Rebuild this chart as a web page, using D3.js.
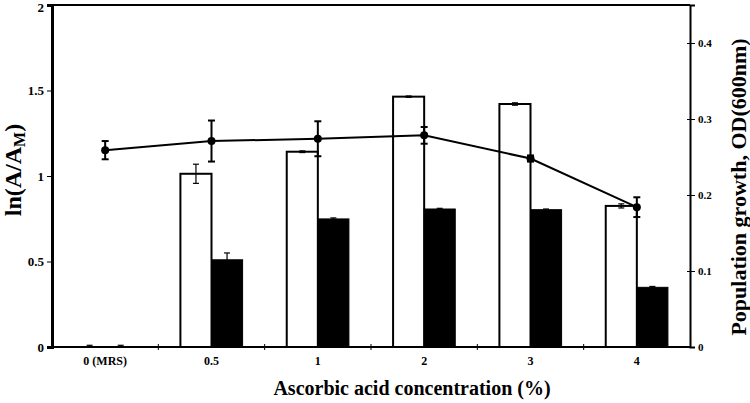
<!DOCTYPE html>
<html>
<head>
    <title>Ascorbic acid chart</title>
    <script src="https://d3js.org/d3.v7.min.js"></script>
</head>
<body>
    <style>
        * { margin: 0; padding: 0; }
        body { background: #fff; }
        text { font-family: 'Liberation Serif', 'Times New Roman', serif; font-weight: bold; fill: #000; }
    </style>
    <div id="chart"></div>

    <script>
        // datos
        const categories = ["0 (MRS)", "0.5", "1", "2", "3", "4"];
        const whiteVals = [0, 1.013, 1.142, 1.464, 1.421, 0.825];
        const whiteErr = [0.01, 0.056, 0.005, 0.004, 0.007, 0.012];
        const blackVals = [0, 0.51, 0.749, 0.807, 0.803, 0.349];
        const blackErr = [0.01, 0.04, 0.006, 0.004, 0.004, 0.005];
        const odVals = [0.259, 0.271, 0.274, 0.2785, 0.248, 0.184];
        const odErr = [0.012, 0.027, 0.023, 0.011, 0.004, 0.013];
        const leftTicks = [0, 0.5, 1, 1.5, 2];
        const rightTicks = [0, 0.1, 0.2, 0.3, 0.4];

        const width = 750, height = 403;
        const margin = { top: 5, right: 60, bottom: 56, left: 52 };
        const plotW = width - margin.left - margin.right;
        const plotH = height - margin.top - margin.bottom;

        const svg = d3.select("#chart")
            .append("svg")
            .attr("width", width)
            .attr("height", height);

        const g = svg.append("g")
            .attr("transform", "translate(" + margin.left + "," + margin.top + ")");

        const x0 = d3.scaleBand()
            .domain(categories)
            .range([0, plotW]);

        const x1 = d3.scaleBand()
            .domain(["w", "b"])
            .range([0, x0.bandwidth()])
            .paddingInner(0)
            .paddingOuter(0.71);

        const yL = d3.scaleLinear().domain([0, 2]).range([plotH, 0]);
        const yR = d3.scaleLinear().domain([0, 0.45]).range([plotH, 0]);

        const rows = categories.map((c, i) => ({
            c: c, w: whiteVals[i], we: whiteErr[i], b: blackVals[i], be: blackErr[i], od: odVals[i], ode: odErr[i]
        }));

        // barras blancas
        g.selectAll(".wbar")
            .data(rows.filter(d => d.w > 0))
            .enter()
            .append("rect")
            .attr("x", d => x0(d.c) + x1("w"))
            .attr("y", d => yL(d.w))
            .attr("width", x1.bandwidth())
            .attr("height", d => plotH - yL(d.w))
            .attr("fill", "#fff")
            .attr("stroke", "#000")
            .attr("stroke-width", 2);

        // barras negras
        g.selectAll(".bbar")
            .data(rows.filter(d => d.b > 0))
            .enter()
            .append("rect")
            .attr("x", d => x0(d.c) + x1("b"))
            .attr("y", d => yL(d.b))
            .attr("width", x1.bandwidth())
            .attr("height", d => plotH - yL(d.b))
            .attr("fill", "#000")
            .attr("stroke", "#000")
            .attr("stroke-width", 1);

        // barras de error
        function errorBar(cx, y, lo, hi, cap, sw) {
            const e = g.append("g").attr("stroke", "#000").attr("stroke-width", sw);
            e.append("line").attr("x1", cx).attr("x2", cx).attr("y1", y(lo)).attr("y2", y(hi));
            e.append("line").attr("x1", cx - cap).attr("x2", cx + cap).attr("y1", y(lo)).attr("y2", y(lo));
            e.append("line").attr("x1", cx - cap).attr("x2", cx + cap).attr("y1", y(hi)).attr("y2", y(hi));
        }

        rows.forEach(d => {
            const cw = x0(d.c) + x1("w") + x1.bandwidth() / 2;
            const cb = x0(d.c) + x1("b") + x1.bandwidth() / 2;
            errorBar(cw, yL, Math.max(0, d.w - d.we), d.w + d.we, 3, 1.2);
            errorBar(cb, yL, Math.max(0, d.b - d.be), d.b + d.be, 3, 1.2);
        });

        // linea de crecimiento
        const cx = d => x0(d.c) + x0.bandwidth() / 2;

        g.append("path")
            .datum(rows)
            .attr("fill", "none")
            .attr("stroke", "#000")
            .attr("stroke-width", 2)
            .attr("d", d3.line().x(cx).y(d => yR(d.od)));

        rows.forEach(d => {
            errorBar(cx(d), yR, d.od - d.ode, d.od + d.ode, 3.5, 2);
        });

        g.selectAll(".pt")
            .data(rows)
            .enter()
            .append("circle")
            .attr("cx", cx)
            .attr("cy", d => yR(d.od))
            .attr("r", 4)
            .attr("fill", "#000");

        // ejes
        const xAxis = g.append("g")
            .attr("transform", "translate(0," + plotH + ")");
        xAxis.append("line")
            .attr("x1", 0).attr("x2", plotW)
            .attr("stroke", "#000").attr("stroke-width", 2);
        xAxis.selectAll(".xt")
            .data(categories.slice(1))
            .enter()
            .append("line")
            .attr("x1", d => x0(d)).attr("x2", d => x0(d))
            .attr("y1", -3).attr("y2", 3)
            .attr("stroke", "#000").attr("stroke-width", 1);
        xAxis.selectAll(".xl")
            .data(categories)
            .enter()
            .append("text")
            .attr("x", d => x0(d) + x0.bandwidth() / 2)
            .attr("y", 18)
            .attr("text-anchor", "middle")
            .style("font-size", "12px")
            .text(d => d);

        const leftAxis = g.append("g")
            .call(d3.axisLeft(yL).tickValues(leftTicks).tickSize(5).tickFormat(d3.format("")));
        leftAxis.select(".domain").attr("stroke-width", 3);
        leftAxis.selectAll("text").style("font-size", "13px").attr("font-family", null);
        leftAxis.selectAll(".tick").filter(d => d === 2).select("text").attr("dy", "0.5em");

        const rightAxis = g.append("g")
            .attr("transform", "translate(" + plotW + ",0)")
            .call(d3.axisRight(yR).tickValues(rightTicks).tickSize(5).tickFormat(d3.format("")));
        rightAxis.select(".domain").attr("stroke-width", 2);
        rightAxis.selectAll(".tick line").attr("x1", -3);
        rightAxis.selectAll("text").style("font-size", "11px").attr("font-family", null);

        // borde superior
        g.append("line")
            .attr("x1", 0).attr("x2", plotW)
            .attr("y1", 0).attr("y2", 0)
            .attr("stroke", "#000").attr("stroke-width", 2);

        // titulos
        svg.append("text")
            .attr("x", 412)
            .attr("y", 395)
            .attr("text-anchor", "middle")
            .style("font-size", "20px")
            .text("Ascorbic acid concentration (%)");

        const lt = svg.append("text")
            .attr("transform", "translate(21,170) rotate(-90)")
            .attr("text-anchor", "middle")
            .style("font-size", "24px");
        lt.append("tspan").text("ln(A/A");
        lt.append("tspan").attr("dy", 4).style("font-size", "16px").text("M");
        lt.append("tspan").attr("dy", -4).text(")");

        svg.append("text")
            .attr("transform", "translate(746,187) rotate(-90)")
            .attr("text-anchor", "middle")
            .style("font-size", "22px")
            .text("Population growth, OD(600nm)");
    </script>
</body>
</html>
